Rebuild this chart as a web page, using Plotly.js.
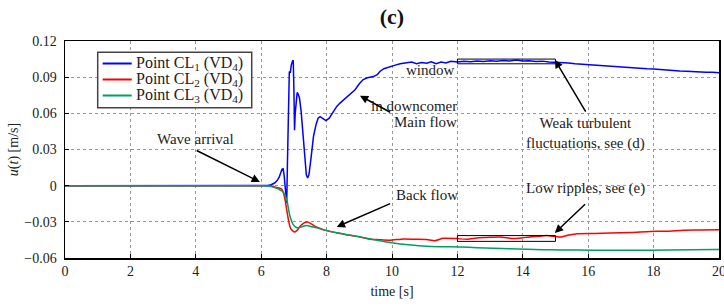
<!DOCTYPE html>
<html>
<head>
<meta charset="utf-8">
<script src="https://cdn.plot.ly/plotly-3.0.1.min.js"></script>
<style>html,body{margin:0;padding:0;background:#fff}#chart{width:724px;height:308px}</style>
</head>
<body>
<div id="chart"></div>
<script>
// ---- data ----
const seriesNames = ["Point CL<sub>1</sub> (VD<sub>4</sub>)", "Point CL<sub>2</sub> (VD<sub>4</sub>)", "Point CL<sub>3</sub> (VD<sub>4</sub>)"];

const tBlue = [0, 6.0, 6.2, 6.3, 6.4, 6.48, 6.55, 6.6, 6.64, 6.67, 6.70, 6.73, 6.76, 6.78, 6.80, 6.82, 6.84, 6.86, 6.89, 6.92, 6.96, 6.98, 7.00, 7.02, 7.04, 7.07, 7.10, 7.13, 7.17, 7.22, 7.28, 7.34, 7.38, 7.42, 7.46, 7.52, 7.60, 7.68, 7.74, 7.80, 7.88, 7.98, 8.08, 8.20, 8.31, 8.41, 8.55, 8.72, 8.87, 9.00, 9.12, 9.25, 9.43, 9.55, 9.63, 9.75, 9.94, 10.1, 10.25, 10.45, 10.6, 10.75, 10.9, 11.06, 11.2, 11.35, 11.5, 11.65, 11.8, 12.0, 12.2, 12.4, 12.6, 12.8, 13.0, 13.2, 13.4, 13.6, 13.8, 14.0, 14.2, 14.4, 14.6, 14.8, 15.0, 15.2, 15.4, 15.6, 15.8, 16.0, 16.2, 16.4, 16.6, 16.8, 17.0, 17.2, 17.4, 17.6, 17.8, 18.0, 18.2, 18.4, 18.6, 18.8, 19.0, 19.2, 19.4, 19.6, 19.8, 20.0];
const uBlue = [0, 0, 0.0002, 0.0008, 0.002, 0.004, 0.007, 0.011, 0.0138, 0.014, 0.009, 0.000, -0.010, -0.0143, 0.015, 0.055, 0.085, 0.0947, 0.0935, 0.100, 0.1035, 0.104, 0.080, 0.046, 0.060, 0.074, 0.0773, 0.076, 0.0727, 0.062, 0.043, 0.020, 0.009, 0.0064, 0.009, 0.022, 0.041, 0.051, 0.056, 0.0572, 0.0555, 0.054, 0.056, 0.061, 0.0657, 0.0685, 0.072, 0.076, 0.0796, 0.0845, 0.088, 0.0895, 0.0905, 0.092, 0.0947, 0.097, 0.0989, 0.1000, 0.1012, 0.1017, 0.1025, 0.1012, 0.1022, 0.1015, 0.1028, 0.1012, 0.1025, 0.1018, 0.1032, 0.1025, 0.1032, 0.1028, 0.1035, 0.1030, 0.1036, 0.1032, 0.1038, 0.1034, 0.1042, 0.1035, 0.1036, 0.1030, 0.1033, 0.1026, 0.1025, 0.1020, 0.1018, 0.1012, 0.1008, 0.1004, 0.1002, 0.0994, 0.0991, 0.0985, 0.0984, 0.0978, 0.0976, 0.0972, 0.0969, 0.0967, 0.0962, 0.0961, 0.0955, 0.0952, 0.0950, 0.0946, 0.0944, 0.0940, 0.0941, 0.0936];

const tRed = [0, 6.0, 6.2, 6.3, 6.4, 6.47, 6.55, 6.63, 6.68, 6.73, 6.78, 6.83, 6.88, 6.93, 7.03, 7.10, 7.19, 7.30, 7.41, 7.52, 7.65, 7.80, 8.0, 8.3, 8.72, 9.02, 9.28, 9.6, 9.94, 10.35, 10.7, 11.06, 11.31, 11.57, 11.98, 12.3, 12.59, 12.9, 13.3, 13.71, 14.0, 14.22, 14.5, 14.73, 15.14, 15.4, 15.65, 16.2, 16.67, 17.3, 17.89, 18.4, 18.91, 19.4, 20.0];
const uRed = [0, 0, 0, -0.0003, -0.0008, -0.0015, -0.002, -0.003, -0.006, -0.0116, -0.020, -0.028, -0.034, -0.0365, -0.0384, -0.037, -0.0337, -0.031, -0.0301, -0.0315, -0.0337, -0.0355, -0.0373, -0.039, -0.0412, -0.0425, -0.0442, -0.0448, -0.0453, -0.0442, -0.0445, -0.0447, -0.0456, -0.0436, -0.0439, -0.0445, -0.0434, -0.0430, -0.0425, -0.0439, -0.0432, -0.0425, -0.0420, -0.0414, -0.0425, -0.0410, -0.0398, -0.0396, -0.0392, -0.0388, -0.0380, -0.0378, -0.0370, -0.0368, -0.0365];

const tGreen = [0, 6.0, 6.2, 6.3, 6.4, 6.5, 6.6, 6.68, 6.78, 6.88, 6.98, 7.06, 7.14, 7.25, 7.39, 7.55, 7.7, 8.0, 8.3, 8.72, 9.02, 9.5, 10.04, 10.5, 11.06, 11.5, 12.08, 12.6, 13.1, 13.6, 14.12, 14.6, 15.14, 16.16, 17.18, 18.5, 19.88, 20.0];
const uGreen = [0, 0, -0.0003, -0.0008, -0.0015, -0.0025, -0.004, -0.0055, -0.0116, -0.0254, -0.0323, -0.0345, -0.035, -0.034, -0.0331, -0.034, -0.035, -0.0373, -0.039, -0.0412, -0.0425, -0.045, -0.0475, -0.049, -0.0503, -0.0506, -0.0508, -0.0514, -0.052, -0.0524, -0.0528, -0.0531, -0.0533, -0.0536, -0.0536, -0.0534, -0.053, -0.053];

const xTickVals = [0, 2, 4, 6, 8, 10, 12, 14, 16, 18, 20];
const yTickVals = [0.12, 0.09, 0.06, 0.03, 0, -0.03, -0.06];
const yTickText = ["0.12", "0.09", "0.06", "0.03", "0", "\u22120.03", "\u22120.06"];

// ---- chart ----
const FONT = "'Liberation Serif', 'DejaVu Serif', serif";
const colors = ["#0000ff", "#ff0000", "#00a060"];

const traces = [
  {x: tBlue, y: uBlue, name: seriesNames[0], mode: "lines", showlegend: false, line: {color: colors[0], width: 1.5}},
  {x: tRed, y: uRed, name: seriesNames[1], mode: "lines", showlegend: false, line: {color: colors[1], width: 1.5, shape: "spline", smoothing: 0.6}},
  {x: tGreen, y: uGreen, name: seriesNames[2], mode: "lines", showlegend: false, line: {color: colors[2], width: 1.5, shape: "spline", smoothing: 0.6}}
];

function arrow(x, y, ax, ay) {
  return {x: x, y: y, ax: ax, ay: ay, xref: "x", yref: "y", axref: "x", ayref: "y",
    text: "", showarrow: true, arrowhead: 2, arrowsize: 1.1, arrowwidth: 1.5, arrowcolor: "#000", standoff: 0, startstandoff: 0};
}
function label(x, y, text, xanchor) {
  return {x: x, y: y, xref: "x", yref: "y", text: text, showarrow: false,
    xanchor: xanchor || "center", yanchor: "middle", align: xanchor === "right" ? "right" : "center",
    font: {family: FONT, size: 15, color: "#222"}};
}

// hand-built legend (compact row spacing like the reference)
const legendBox = {type: "rect", xref: "paper", yref: "paper", x0: 0.05, x1: 0.2855, y0: 0.6926, y1: 0.948,
  line: {color: "#444", width: 1.5}, fillcolor: "#fff", layer: "above"};
const legendRowsY = [0.8963, 0.8226, 0.7488];
const legendShapes = legendRowsY.map((y, i) => ({type: "line", xref: "paper", yref: "paper",
  x0: 0.0576, x1: 0.1020, y0: y, y1: y, line: {color: colors[i], width: 2}, layer: "above"}));
const legendLabels = legendRowsY.map((y, i) => ({xref: "paper", yref: "paper", x: 0.1055, y: y,
  xanchor: "left", yanchor: "middle", text: seriesNames[i], showarrow: false,
  font: {family: FONT, size: 16, color: "#222"}}));

const layout = {
  width: 724, height: 308,
  margin: {l: 65, r: 5, t: 41, b: 50},
  paper_bgcolor: "#fff", plot_bgcolor: "#fff",
  font: {family: FONT, size: 14, color: "#222"},
  title: {text: "<b>(c)</b>", x: 0.5, xref: "paper", xanchor: "center", y: 0.948, yref: "container", yanchor: "middle",
    font: {family: FONT, size: 22, color: "#111"}},
  showlegend: false,
  xaxis: {range: [0, 20], tickvals: xTickVals, ticks: "inside", ticklen: 4, tickcolor: "#000",
    showline: true, linecolor: "#000", linewidth: 1.5, mirror: true, zeroline: false,
    showgrid: true, gridcolor: "#999", griddash: "dot", gridwidth: 1, ticklabeloverflow: "allow",
    tickfont: {family: FONT, size: 14, color: "#222"},
    title: {text: "time [s]", standoff: 8, font: {family: FONT, size: 14, color: "#222"}}},
  yaxis: {range: [-0.06, 0.12], tickvals: yTickVals, ticktext: yTickText, ticks: "inside", ticklen: 4, tickcolor: "#000",
    showline: true, linecolor: "#000", linewidth: 1.5, mirror: true, zeroline: false,
    showgrid: true, gridcolor: "#999", griddash: "dot", gridwidth: 1, ticklabelstandoff: 4, ticklabeloverflow: "allow",
    tickfont: {family: FONT, size: 14, color: "#222"},
    title: {text: "<i>u</i>(<i>t</i>) [m/s]", standoff: 2, font: {family: FONT, size: 14, color: "#222"}}},
  shapes: [
    {type: "rect", xref: "x", yref: "y", x0: 12, x1: 15, y0: 0.1011, y1: 0.1050, line: {color: "#000", width: 1}},
    {type: "rect", xref: "x", yref: "y", x0: 12, x1: 15, y0: -0.0462, y1: -0.0414, line: {color: "#000", width: 1}},
    legendBox
  ].concat(legendShapes),
  annotations: [
    label(3.99, 0.039, "Wave arrival"),
    arrow(5.96, 0.0031, 3.98, 0.0298),
    label(11.07, -0.0075, "Back flow"),
    arrow(8.31, -0.0342, 9.99, -0.0143),
    label(15.93, -0.0025, "Low ripples, see (e)"),
    arrow(14.98, -0.0392, 15.95, -0.0143),
    label(15.93, 0.0433, "Weak turbulent<br>fluctuations, see (d)"),
    arrow(14.98, 0.1044, 15.95, 0.0602),
    label(12.05, 0.0662, "in downcomer", "right"),
    label(12.05, 0.0528, "Main flow", "right"),
    arrow(9.02, 0.0746, 9.99, 0.0602),
    label(11.98, 0.0961, "window", "right")
  ].concat(legendLabels)
};

Plotly.newPlot("chart", traces, layout, {displayModeBar: false, staticPlot: true});
</script>
</body>
</html>
